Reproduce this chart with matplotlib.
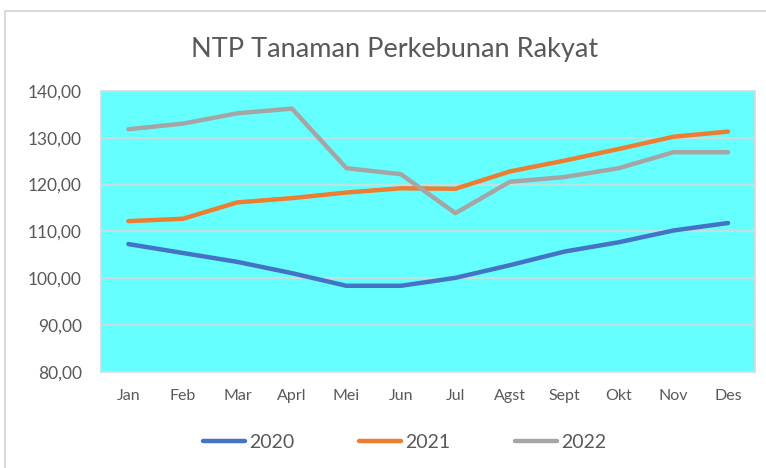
import matplotlib.pyplot as plt
from matplotlib.lines import Line2D

bulan = ["Jan", "Feb", "Mar", "Aprl", "Mei", "Jun", "Jul", "Agst", "Sept", "Okt", "Nov", "Des"]
ntp_2020 = [107.3, 105.4, 103.5, 101.1, 98.4, 98.4, 100.1, 102.8, 105.7, 107.7, 110.2, 111.8]
ntp_2021 = [112.2, 112.7, 116.2, 117.1, 118.3, 119.2, 119.1, 122.8, 125.1, 127.6, 130.2, 131.3]
ntp_2022 = [131.8, 133.0, 135.2, 136.2, 123.5, 122.2, 113.9, 120.6, 121.6, 123.5, 126.9, 126.9]
tahun = ["2020", "2021", "2022"]
warna = ["#4472C4", "#ED7D31", "#A5A5A5"]

plt.rcParams['font.family'] = ['Lato', 'DejaVu Sans']
teks = "#595959"

fig = plt.figure(figsize=(7.66, 4.68), dpi=100)
ax = fig.add_axes([0.132, 0.205, 0.854, 0.601])
ax.set_facecolor("#66FFFF")

x = list(range(len(bulan)))
for data, c in zip([ntp_2020, ntp_2021, ntp_2022], warna):
    ax.plot(x, data, color=c, lw=3.2, solid_capstyle='round', solid_joinstyle='round', zorder=3)

ax.set_ylim(80, 140)
ax.set_xlim(-0.5, 11.5)
ax.set_yticks(range(80, 141, 10))
ax.set_yticklabels([f"{v:.2f}".replace(".", ",") for v in range(80, 141, 10)])
ax.set_xticks(x)
ax.set_xticklabels(bulan)
ax.tick_params(axis='y', length=0, pad=14, labelsize=12.5, labelcolor=teks)
ax.tick_params(axis='x', length=0, pad=12, labelsize=11.5, labelcolor=teks)
ax.grid(axis='y', color="#D9D9D9", lw=1.2, zorder=1)
for s in ax.spines.values():
    s.set_color("#D9D9D9")
    s.set_linewidth(1.2)

fig.text(0.515, 0.895, "NTP Tanaman Perkebunan Rakyat", ha='center', va='center', fontsize=19.5, color=teks)

handles = [Line2D([0], [0], color=c, lw=3.2, solid_capstyle='round') for c in warna]
fig.legend(handles, tahun, loc='center', bbox_to_anchor=(0.528, 0.055), ncol=3, frameon=False,
           fontsize=14, labelcolor=teks, handlelength=2.2, handletextpad=0.2, columnspacing=3.3)

# bingkai chart
fig.add_artist(Line2D([5/766, 5/766], [0, 1 - 11/468], color="#D9D9D9", lw=1.5))
fig.add_artist(Line2D([5/766, 1], [1 - 11/468, 1 - 11/468], color="#D9D9D9", lw=1.5))

fig.savefig("out.png", dpi=100)
